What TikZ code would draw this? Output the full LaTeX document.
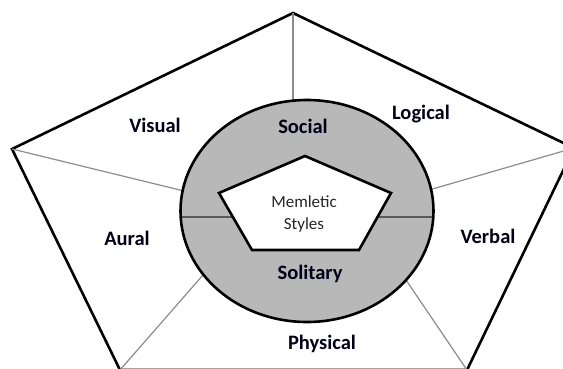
\documentclass[tikz,border=0pt]{standalone}
\usepackage{fontspec}
\setmainfont{Carlito}

\begin{document}
\begin{tikzpicture}[x=1pt,y=-1pt,
  edge/.style={line width=2.6pt,line join=miter},
  spoke/.style={line width=1.2pt,draw=black!45},
  label/.style={font=\fontsize{20.5}{24}\selectfont\bfseries,text=black!90!blue}]
	\clip (0,0) rectangle (563,368);
	% outer pentagon
	\coordinate (top) at (293,13);
	\coordinate (left) at (12,149);
	\coordinate (right) at (574,148);
	\coordinate (bl) at (120,370);
	\coordinate (br) at (467,370);
	\draw[edge] (top) -- (right) -- (br) -- (bl) -- (left) -- cycle;
	% points on the ring
	\coordinate (sTop) at (293,104);
	\coordinate (sLeft) at (184,191);
	\coordinate (sRight) at (429,190);
	\coordinate (sBl) at (203,275);
	\coordinate (sBr) at (404,277);
	\draw[spoke] (top) -- (sTop);
	\draw[spoke] (left) -- (sLeft);
	\draw[spoke] (right) -- (sRight);
	\draw[spoke] (bl) -- (sBl);
	\draw[spoke] (br) -- (sBr);
	% ring
	\coordinate (ctr) at (307,211);
	\fill[black!28] (ctr) ellipse [x radius=126.5,y radius=111];
	\coordinate (midL) at (181,217);
	\coordinate (midR) at (433,217);
	\draw[line width=1.8pt,black!65] (midL) -- (midR);
	\draw[line width=2.6pt] (ctr) ellipse [x radius=126.5,y radius=111];
	% inner pentagon
	\draw[edge,fill=white] (305,156) -- (391,193) -- (359,250) -- (252,250) -- (219,193) -- cycle;
	% labels
	\node[label] (visual) at (155,125) {Visual};
	\node[label] (logical) at (421,114) {Logical};
	\node[label] (aural) at (127,238) {Aural};
	\node[label] (verbal) at (488,236) {Verbal};
	\node[label] (physical) at (322,344) {Physical};
	\node[label] (social) at (303,126) {Social};
	\node[label] (solitary) at (310,274) {Solitary};
	\node[font=\fontsize{17}{22}\selectfont,text=black!85,align=center] (centre) at (304,214) {Memletic\\Styles};
\end{tikzpicture}
\end{document}
